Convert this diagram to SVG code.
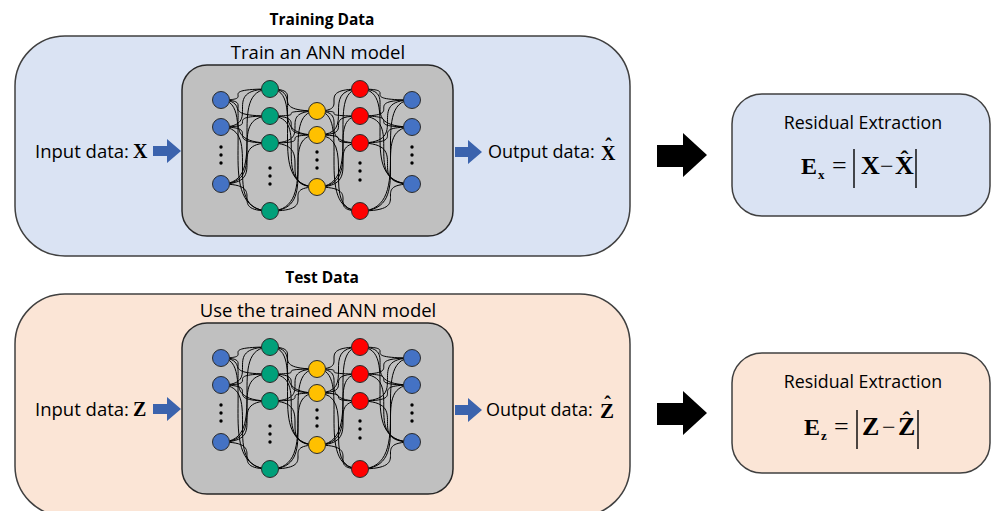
<svg xmlns="http://www.w3.org/2000/svg" xmlns:xlink="http://www.w3.org/1999/xlink" width="992" height="511" viewBox="0 0 992 511">
<style>
.sans{font-family:"Open Sans","Noto Sans","Liberation Sans",sans-serif;fill:#000}
.ser{font-family:"Liberation Serif","Times New Roman",serif;font-weight:bold;fill:#000}
.reg{font-family:"Liberation Serif","Times New Roman",serif;fill:#000}
.panel{stroke:#404040;stroke-width:1.5}
.blue{fill:#dae3f3}
.peach{fill:#fbe5d6}
.gray{fill:#c0c0c0;stroke:#262626;stroke-width:1.5}
.wire{fill:none;stroke:#000;stroke-width:1}
.n{stroke:#2b2b2b;stroke-width:1}
.nb{fill:#4472c4}.ng{fill:#00a07a}.ny{fill:#ffc000}.nr{fill:#ff0000}
.arrA{fill:#3b63ad}
.arrK{fill:#000}
.bar{stroke:#000;stroke-width:1.4}
</style>
<defs>
<g id="net">
<rect class="gray" x="182" y="65" width="271" height="171" rx="25"/>
<path class="wire" d="M221 100C260 100 211 89 270 89M221 100C260 100 211 116 270 116M221 100C260 100 211 143 270 143M221 100C260 100 211 211 270 211M221 127C266 127 217 89 270 89M221 127C266 127 217 116 270 116M221 127C266 127 217 143 270 143M221 127C266 127 217 211 270 211M221 184C272 184 223 89 270 89M221 184C272 184 223 116 270 116M221 184C272 184 223 143 270 143M221 184C272 184 223 211 270 211"/>
<path class="wire" d="M270 89C309 89 262 111 317 111M270 89C309 89 262 135 317 135M270 89C309 89 262 187 317 187M270 116C314 116 267 111 317 111M270 116C314 116 267 135 317 135M270 116C314 116 267 187 317 187M270 143C319 143 272 111 317 111M270 143C319 143 272 135 317 135M270 143C319 143 272 187 317 187M270 211C323 211 276 111 317 111M270 211C323 211 276 135 317 135M270 211C323 211 276 187 317 187"/>
<path class="wire" d="M317 111C354 111 311 89 360 89M317 111C354 111 311 116 360 116M317 111C354 111 311 143 360 143M317 111C354 111 311 211 360 211M317 135C360 135 317 89 360 89M317 135C360 135 317 116 360 116M317 135C360 135 317 143 360 143M317 135C360 135 317 211 360 211M317 187C366 187 323 89 360 89M317 187C366 187 323 116 360 116M317 187C366 187 323 143 360 143M317 187C366 187 323 211 360 211"/>
<path class="wire" d="M360 89C404 89 352 100 412 100M360 89C404 89 352 127 412 127M360 89C404 89 352 184 412 184M360 116C409 116 357 100 412 100M360 116C409 116 357 127 412 127M360 116C409 116 357 184 412 184M360 143C414 143 362 100 412 100M360 143C414 143 362 127 412 127M360 143C414 143 362 184 412 184M360 211C418 211 366 100 412 100M360 211C418 211 366 127 412 127M360 211C418 211 366 184 412 184"/>
<g class="n nb"><circle cx="221" cy="100" r="8.5"/><circle cx="221" cy="127" r="8.5"/><circle cx="221" cy="184" r="8.5"/><circle cx="412" cy="100" r="8.5"/><circle cx="412" cy="127" r="8.5"/><circle cx="412" cy="184" r="8.5"/></g>
<g class="n ng"><circle cx="270" cy="89" r="8.5"/><circle cx="270" cy="116" r="8.5"/><circle cx="270" cy="143" r="8.5"/><circle cx="270" cy="211" r="8.5"/></g>
<g class="n ny"><circle cx="317" cy="111" r="8.5"/><circle cx="317" cy="135" r="8.5"/><circle cx="317" cy="187" r="8.5"/></g>
<g class="n nr"><circle cx="360" cy="89" r="8.5"/><circle cx="360" cy="116" r="8.5"/><circle cx="360" cy="143" r="8.5"/><circle cx="360" cy="211" r="8.5"/></g>
<g fill="#000">
<circle cx="221" cy="147" r="1.7"/><circle cx="221" cy="155" r="1.7"/><circle cx="221" cy="163" r="1.7"/>
<circle cx="270" cy="168" r="1.7"/><circle cx="270" cy="176" r="1.7"/><circle cx="270" cy="184" r="1.7"/>
<circle cx="317" cy="152" r="1.7"/><circle cx="317" cy="160" r="1.7"/><circle cx="317" cy="168" r="1.7"/>
<circle cx="360" cy="163" r="1.7"/><circle cx="360" cy="171" r="1.7"/><circle cx="360" cy="180" r="1.7"/>
<circle cx="412" cy="147" r="1.7"/><circle cx="412" cy="155" r="1.7"/><circle cx="412" cy="163" r="1.7"/>
</g>
</g>
</defs>

<g id="training">
<text class="sans" x="322" y="25" font-size="15.5" font-weight="bold" text-anchor="middle">Training Data</text>
<rect class="panel blue" x="15" y="36" width="615" height="220" rx="50"/>
<text class="sans" x="318" y="59" font-size="18.5" text-anchor="middle">Train an ANN model</text>
<use xlink:href="#net"/>
<text class="sans" x="35" y="158" font-size="18.5">Input data:</text>
<text class="ser" x="133" y="158" font-size="20">X</text>
<text class="sans" x="488" y="158" font-size="18">Output data:</text>
<text class="ser" x="601" y="160" font-size="20">X</text>
<text class="ser" x="608.5" y="153" font-size="20" text-anchor="middle">ˆ</text>
</g>

<g id="test">
<text class="sans" x="322" y="283" font-size="15.5" font-weight="bold" text-anchor="middle">Test Data</text>
<rect class="panel peach" x="15" y="294" width="615" height="222" rx="50"/>
<text class="sans" x="318" y="317" font-size="18.5" text-anchor="middle">Use the trained ANN model</text>
<use xlink:href="#net" transform="translate(0,258)"/>
<text class="sans" x="35" y="416" font-size="18.5">Input data:</text>
<text class="ser" x="133" y="416" font-size="20">Z</text>
<text class="sans" x="486" y="416" font-size="18">Output data:</text>
<text class="ser" x="600" y="418" font-size="21">Z</text>
<text class="ser" x="607.5" y="411" font-size="20" text-anchor="middle">ˆ</text>
</g>

<g id="res-train">
<rect class="panel blue" x="732" y="94" width="258" height="122" rx="30"/>
<text class="sans" x="863" y="129" font-size="17.8" text-anchor="middle">Residual Extraction</text>
<text class="ser" x="801" y="174" font-size="24">E</text>
<text class="ser" x="818" y="179" font-size="13">x</text>
<text class="reg" x="832" y="174" font-size="26">=</text>
<line class="bar" x1="854" y1="149" x2="854" y2="188"/>
<text class="ser" x="861" y="174" font-size="26">X</text>
<text class="reg" x="880" y="174" font-size="24">−</text>
<text class="ser" x="895" y="174" font-size="26">X</text>
<text class="ser" x="904.5" y="167" font-size="24" text-anchor="middle">ˆ</text>
<line class="bar" x1="916" y1="149" x2="916" y2="188"/>
</g>

<g id="res-test">
<rect class="panel peach" x="732" y="353" width="258" height="120" rx="30"/>
<text class="sans" x="863" y="388" font-size="17.8" text-anchor="middle">Residual Extraction</text>
<text class="ser" x="804" y="435" font-size="24">E</text>
<text class="ser" x="821" y="440" font-size="13">z</text>
<text class="reg" x="834" y="435" font-size="26">=</text>
<line class="bar" x1="857" y1="410" x2="857" y2="449"/>
<text class="ser" x="862" y="435" font-size="26">Z</text>
<text class="reg" x="882" y="435" font-size="24">−</text>
<text class="ser" x="898" y="435" font-size="26">Z</text>
<text class="ser" x="906.5" y="428" font-size="24" text-anchor="middle">ˆ</text>
<line class="bar" x1="918" y1="410" x2="918" y2="449"/>
</g>

<g id="connectors">
<polygon class="arrA" points="153,146 167,146 167,139 181,151 167,163 167,156 153,156"/>
<polygon class="arrA" points="455,147 468,147 468,140 482,152 468,164 468,157 455,157"/>
<polygon class="arrK" points="657,145 683,145 683,133 707,155 683,177 683,167 657,167"/>
<polygon class="arrA" points="153,404 167,404 167,397 181,409 167,421 167,414 153,414"/>
<polygon class="arrA" points="455,405 468,405 468,398 482,410 468,422 468,415 455,415"/>
<polygon class="arrK" points="657,403 683,403 683,391 707,413 683,435 683,425 657,425"/>
</g>
</svg>
